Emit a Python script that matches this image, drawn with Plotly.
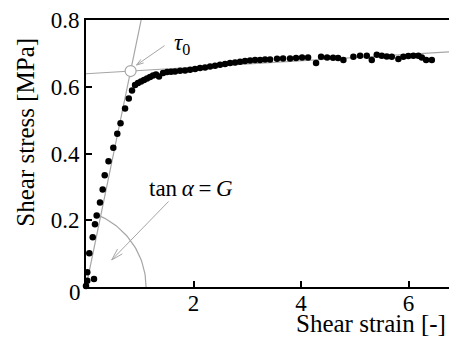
import math
import numpy as np
import plotly.graph_objects as go

# measured points (strain [-], stress [MPa])
strain = [0.000, 0.024, 0.149, 0.024, 0.061, 0.125, 0.167, 0.199, 0.260, 0.310,
          0.348, 0.419, 0.508, 0.582, 0.642, 0.726, 0.795, 0.856, 0.912, 0.967,
          1.023, 1.079, 1.135, 1.191, 1.247, 1.302, 1.358, 1.433, 1.507, 1.581,
          1.656, 1.749, 1.842, 1.935, 2.028, 2.121, 2.214, 2.307, 2.400, 2.493,
          2.586, 2.679, 2.772, 2.865, 2.958, 3.051, 3.144, 3.237, 3.330, 3.423,
          3.553, 3.665, 3.795, 3.907, 4.019, 4.130, 4.279, 4.372, 4.484, 4.595,
          4.688, 4.787, 4.973, 5.098, 5.222, 5.315, 5.408, 5.501, 5.594, 5.687,
          5.810, 5.903, 5.996, 6.089, 6.182, 6.246, 6.326, 6.432]
stress = [0.003, 0.019, 0.024, 0.044, 0.101, 0.149, 0.188, 0.214, 0.253, 0.292,
          0.335, 0.377, 0.417, 0.459, 0.491, 0.535, 0.565, 0.589, 0.605, 0.611,
          0.616, 0.620, 0.625, 0.629, 0.634, 0.637, 0.631, 0.641, 0.644, 0.645,
          0.646, 0.648, 0.649, 0.651, 0.653, 0.656, 0.658, 0.661, 0.663, 0.666,
          0.668, 0.671, 0.673, 0.675, 0.677, 0.679, 0.680, 0.680, 0.682, 0.682,
          0.684, 0.685, 0.685, 0.686, 0.688, 0.688, 0.671, 0.690, 0.688, 0.687,
          0.686, 0.680, 0.690, 0.693, 0.693, 0.680, 0.696, 0.693, 0.691, 0.690,
          0.683, 0.690, 0.692, 0.693, 0.693, 0.688, 0.680, 0.680]

x_ticks = [2, 4, 6]
y_ticks = [0.2, 0.4, 0.6, 0.8]

# fitted lines
G = 0.78            # elastic slope
tau_b = 0.639       # plastic line intercept
tau_k = 0.0097      # plastic line slope
x_max = 6.9
y_max = 0.8

gamma0 = tau_b / (G - tau_k)
tau0 = G * gamma0

GRAY = '#a6a6a6'
FONT = 'Liberation Serif'

fig = go.Figure()

# elastic fit
fig.add_trace(go.Scatter(
    x=[0, y_max / G], y=[0, y_max],
    mode='lines', line=dict(color=GRAY, width=1.2), hoverinfo='skip'))

# plastic fit
fig.add_trace(go.Scatter(
    x=[0, x_max], y=[tau_b, tau_b + tau_k * x_max],
    mode='lines', line=dict(color=GRAY, width=1.2), hoverinfo='skip'))

# angle arc
t = np.linspace(0, math.radians(67), 40)
fig.add_trace(go.Scatter(
    x=-0.353 + 1.47 * np.cos(t), y=0.234 * np.sin(t),
    mode='lines', line=dict(color=GRAY, width=1.2), hoverinfo='skip'))

# data
fig.add_trace(go.Scatter(
    x=strain, y=stress, mode='markers',
    marker=dict(color='black', size=6.5),
    cliponaxis=False))

# tau0 marker
fig.add_trace(go.Scatter(
    x=[gamma0], y=[tau0], mode='markers',
    marker=dict(color='white', size=11, line=dict(color=GRAY, width=1.2))))


def arrow(x, y, ax, ay, head=9, ang=18):
    # shaft + open V head, offsets in pixels
    L = math.hypot(ax, ay)
    dx, dy = ax / L, ay / L
    out = [dict(x=x, y=y, ax=ax, ay=ay)]
    for s in (1, -1):
        a = math.radians(ang * s)
        hx = (dx * math.cos(a) - dy * math.sin(a)) * head
        hy = (dx * math.sin(a) + dy * math.cos(a)) * head
        out.append(dict(x=x, y=y, ax=hx, ay=hy))
    for o in out:
        o.update(xref='x', yref='y', text='', showarrow=True, arrowhead=0,
                 arrowwidth=1, arrowcolor=GRAY, standoff=0)
    return out


annotations = []
annotations += arrow(0.94, 0.665, 29.5, -20.5, head=9, ang=18)
annotations += arrow(0.478, 0.081, 58.3, -60, head=14, ang=16)

txt = dict(showarrow=False, xanchor='center', yanchor='middle')
annotations += [
    dict(x=1.79, y=0.728, xref='x', yref='y', text='<i>τ</i><sub>0</sub>',
         font=dict(size=23), **txt),
    dict(x=1.96, y=0.295, xref='x', yref='y',
         text='tan\u2009<i>α</i>\u2009=\u2009<i>G</i>',
         font=dict(size=23), **txt),
    dict(x=-0.0288, y=-0.0204, xref='paper', yref='paper', text='0',
         font=dict(size=23), **txt),
    dict(x=0.768, y=-0.135, xref='paper', yref='paper', text='Shear strain [-]',
         font=dict(size=25), **txt),
    dict(x=-0.1617, y=0.578, xref='paper', yref='paper', text='Shear stress [MPa]',
         textangle=-90, font=dict(size=25), **txt),
]

# page body has an 8px margin, so the figure is shifted by that much
fig.update_layout(
    width=449, height=332,
    margin=dict(l=78, r=0, t=9, b=53),
    paper_bgcolor='white', plot_bgcolor='white',
    showlegend=False,
    font=dict(family=FONT, size=23, color='black'),
    annotations=annotations,
    xaxis=dict(
        range=[0, x_max], tickvals=x_ticks, ticks='inside', ticklen=6,
        tickwidth=1.5, tickcolor='black', showline=True, linewidth=2,
        linecolor='black', mirror=True, showgrid=False, zeroline=False,
        ticklabelstandoff=-6, ticklabeloverflow='allow'),
    yaxis=dict(
        range=[0, y_max], tickvals=y_ticks, ticks='inside', ticklen=6,
        tickwidth=1.5, tickcolor='black', showline=True, linewidth=2,
        linecolor='black', showgrid=False, zeroline=False,
        ticklabeloverflow='allow'))

fig.write_html("out.html")
